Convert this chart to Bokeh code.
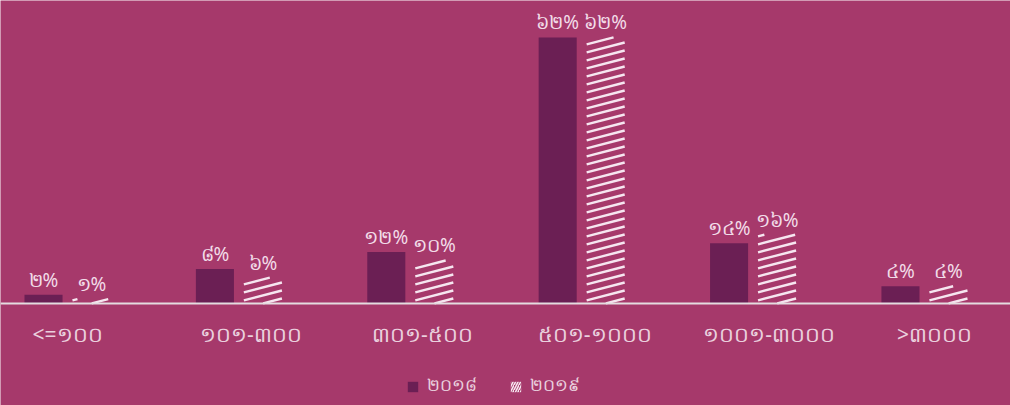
from bokeh.plotting import figure
from bokeh.models import Range1d, Span, Legend, LegendItem, ColumnDataSource
from bokeh.embed import file_html
from bokeh.resources import INLINE
from bokeh.core.properties import value

# ---- data ----
categories = ["<=១០០", "១០១-៣០០", "៣០១-៥០០", "៥០១-១០០០", "១០០១-៣០០០", ">៣០០០"]
series_names = ["២០១៨", "២០១៩"]
values_2018 = [2, 8, 12, 62, 14, 4]
values_2019 = [1, 6, 10, 62, 16, 4]

KHMER = "០១២៣៤៥៦៧៨៩"


def kh(n):
    return "".join(KHMER[int(c)] for c in str(n))


# ---- style ----
BG = "#A6396B"
DARK = "#6B1F54"
HATCH = "#F6E6F0"
TEXT = "#F2DCE8"
TICK = "#EAD0DE"
FONT = "Noto Sans"

W, H = 1010, 405
X0, X1 = -0.391, 5.502
Y0, Y1 = -23.8, 70.6
idx = list(range(len(categories)))
off = 0.14
bw = 0.222
label_shift_px = [0, 12, 12, 13, 16, 10]   # horizontal nudge of category labels

# pixel scale (used only to shape the hatch lines inside each bar)
sx = W / (X1 - X0)
sy = H / (Y1 - Y0)
GAP = 8.0      # vertical spacing of hatch lines, px
SLOPE = 0.26   # rise per px of run
PHASE = 3.0

hx0, hy0, hx1, hy1 = [], [], [], []
for i, v in zip(idx, values_2019):
    left = i + off - bw / 2
    wpx = bw * sx
    hpx = v * sy
    k = -int(wpx * SLOPE / GAP) - 2
    while True:
        c = PHASE + k * GAP
        if c > hpx:
            break
        u0 = max(0.0, -c / SLOPE)
        u1 = min(wpx, (hpx - c) / SLOPE)
        if u1 - u0 > 0.5:
            hx0.append(left + u0 / sx)
            hy0.append((c + SLOPE * u0) / sy)
            hx1.append(left + u1 / sx)
            hy1.append((c + SLOPE * u1) / sy)
        k += 1

src18 = ColumnDataSource(dict(
    x=[i - off for i in idx], top=values_2018,
    lab=[kh(v) + "%" for v in values_2018]))
src19 = ColumnDataSource(dict(
    x=[i + off for i in idx], top=values_2019,
    lab=[kh(v) + "%" for v in values_2019]))
srccat = ColumnDataSource(dict(x=[i + d / sx for i, d in zip(idx, label_shift_px)],
                               y=[0] * len(idx), lab=categories))

p = figure(width=W, height=H, output_backend="svg", toolbar_location=None,
           x_range=Range1d(X0, X1), y_range=Range1d(Y0, Y1),
           min_border=0, background_fill_color=BG, border_fill_color=BG,
           outline_line_color=None)
p.xaxis.visible = False
p.yaxis.visible = False
p.xgrid.visible = False
p.ygrid.visible = False

r18 = p.vbar(x="x", top="top", bottom=0, width=bw, source=src18,
             fill_color=DARK, line_color=None)
# hatched 2019 bars: transparent body + shallow diagonal lines
p.vbar(x="x", top="top", bottom=0, width=bw, source=src19,
       fill_alpha=0, line_color=None)
p.segment(x0=hx0, y0=hy0, x1=hx1, y1=hy1, line_color=HATCH,
          line_width=2.4, line_cap="butt")
# legend swatch for 2019 (not drawn in the plot)
r19 = p.vbar(x="x", top="top", bottom=0, width=bw, source=src19,
             fill_alpha=0, line_color=None, hatch_pattern="/",
             hatch_color=HATCH, hatch_scale=5, hatch_weight=1.6)
r19.visible = False

p.add_layout(Span(location=0, dimension="width", line_color="#E4DCE0", line_width=2))

for s in (src18, src19):
    p.text(x="x", y="top", text="lab", source=s, text_align="center",
           text_baseline="bottom", y_offset=-2, text_color=TEXT,
           text_font=value(FONT), text_font_size="19px")

p.text(x="x", y="y", text="lab", source=srccat, text_align="center",
       text_baseline="middle", y_offset=31, text_color=TICK,
       text_font=value(FONT), text_font_size="21px")

legend = Legend(items=[LegendItem(label=series_names[0], renderers=[r18]),
                       LegendItem(label=series_names[1], renderers=[r19])],
                location=(406, 6), orientation="horizontal",
                glyph_width=13, glyph_height=13, spacing=32, padding=0,
                label_text_color=TICK, label_text_font=FONT,
                label_text_font_size="17px", label_standoff=8,
                background_fill_alpha=0, border_line_alpha=0)
p.add_layout(legend)

open("out.html", "w").write(file_html(p, INLINE))
